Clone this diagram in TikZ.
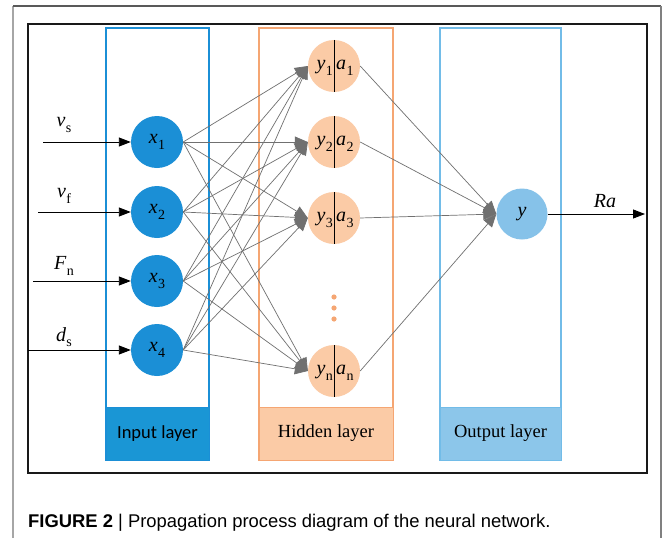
\documentclass[tikz,border=0pt]{standalone}
\usepackage{fontspec}
\setmainfont{Liberation Serif}
\newfontfamily\capfont{Liberation Sans}
\newfontfamily\calfont{Carlito}
\usetikzlibrary{arrows.meta}

\definecolor{inblue}{HTML}{1B8FD6}
\definecolor{inlabel}{HTML}{1A96D5}
\definecolor{hidorange}{HTML}{F5A673}
\definecolor{hidfill}{HTML}{FBCBA6}
\definecolor{outblue}{HTML}{72BCE8}
\definecolor{outfill}{HTML}{8CC6EA}
\definecolor{outnode}{HTML}{86C2E9}
\definecolor{edgegray}{HTML}{707070}

% italic symbol with an upright subscript
\newcommand\vsub[2]{\textit{#1}\kern0.3pt\raisebox{-0.28em}{\fontsize{14}{14}\selectfont #2}}

\tikzset{
  sym/.style={font=\fontsize{20}{20}\selectfont, inner sep=0pt},
  innode/.style={circle, fill=inblue, minimum size=52pt, inner sep=0pt, font=\fontsize{20}{20}\selectfont},
  hidnode/.style={circle, fill=hidfill, minimum size=52pt, inner sep=0pt},
  outnodestyle/.style={circle, fill=outnode, minimum size=51pt, inner sep=0pt, font=\fontsize{20}{20}\selectfont},
  layerbox/.style={line width=1.4pt},
  labelbox/.style={minimum width=103pt, minimum height=53pt, inner sep=0pt},
  feed/.style={line width=0.9pt, -{Triangle[length=12pt,width=9pt]}},
  conn/.style={edgegray, line width=0.7pt, -{Triangle[length=13pt,width=11pt]}},
}

\begin{document}
\begin{tikzpicture}[x=1pt, y=-1pt]
\useasboundingbox (0,0) rectangle (663,538);
\fill[white] (0,0) rectangle (663,538);

% page frame
\draw[color=black!35, line width=1.2pt] (13,538) -- (13,6);
\draw[color=black!65, line width=1.2pt] (13,6) -- (661,6);
\draw[color=black!50, line width=1.2pt] (661,6) -- (661,538);

% figure frame
\draw[color=black!90, line width=1.6pt] (28,24) rectangle (647,473);

% layer outlines
\draw[layerbox, draw=inblue] (106,28) rectangle (209,460);
\draw[layerbox, draw=hidorange] (259,28) rectangle (393,460);
\draw[layerbox, draw=outblue] (440,28) rectangle (561,460);

% layer captions
\node[labelbox, fill=inlabel, draw=inblue, minimum width=103pt, font=\calfont\fontsize{18.5}{18.5}\selectfont] (lin) at (157.5,433.5) {Input layer};
\node[labelbox, fill=hidfill, draw=hidorange, minimum width=134pt, font=\fontsize{18.5}{18.5}\selectfont] (lhid) at (326,433.5) {Hidden layer};
\node[labelbox, fill=outfill, draw=outblue, minimum width=121pt, font=\fontsize{18.5}{18.5}\selectfont] (lout) at (500.5,433.5) {Output layer};

% input neurons
\node[innode] (x1) at (157,142) {\vsub{x}{1}};
\node[innode] (x2) at (157,212) {\vsub{x}{2}};
\node[innode] (x3) at (157,281) {\vsub{x}{3}};
\node[innode] (x4) at (157,350) {\vsub{x}{4}};

% hidden neurons
\foreach \n/\y/\s in {1/66/1, 2/142/2, 3/218/3, n/371/n} {
  \node[hidnode] (h\n) at (334,\y) {};
  \draw[line width=0.9pt] (h\n.north) -- (h\n.south);
  \node[sym, anchor=east] (hy\n) at ([xshift=-1pt,yshift=-2pt]h\n.center) {\vsub{y}{\s}};
  \node[sym, anchor=west] (ha\n) at ([xshift=2pt,yshift=-2pt]h\n.center) {\vsub{a}{\s}};
}

% ellipsis between hidden neurons
\foreach \y [count=\k] in {297,308,319}
  \fill[hidorange] (334,\y) circle (2.6pt);

% output neuron
\node[outnodestyle] (out) at (522,214) {\textit{y}};

% input signals
\coordinate (s1) at (43,142);
\coordinate (s2) at (38,212);
\coordinate (s3) at (33,281);
\coordinate (s4) at (28,350);
\draw[feed] (s1) -- (x1.west);
\draw[feed] (s2) -- (x2.west);
\draw[feed] (s3) -- (x3.west);
\draw[feed] (s4) -- (x4.west);
\node[sym] (lvs) at (64,125) {\vsub{v}{s}};
\node[sym] (lvf) at (64,196) {\vsub{v}{f}};
\node[sym] (lfn) at (64,266) {\vsub{F}{n}};
\node[sym] (lds) at (64,337) {\vsub{d}{s}};

% weighted connections input -> hidden
\foreach \i in {1,...,4}
  \foreach \j in {1,2,3,n}
    \draw[conn] (x\i.east) -- (h\j.west);

% connections hidden -> output
\foreach \j in {1,2,3,n}
  \draw[conn] (h\j.east) -- (out.west);

% network output
\coordinate (rend) at (645,214);
\draw[feed] (out.east) -- (rend);
\node[sym] (lra) at (605,201) {\textit{Ra}};

% caption
\node[anchor=base west, inner sep=0pt, font=\capfont\fontsize{18.4}{18.4}\selectfont] (cap) at (28,527)
  {\textbf{FIGURE 2} | Propagation process diagram of the neural network.};
\end{tikzpicture}
\end{document}
